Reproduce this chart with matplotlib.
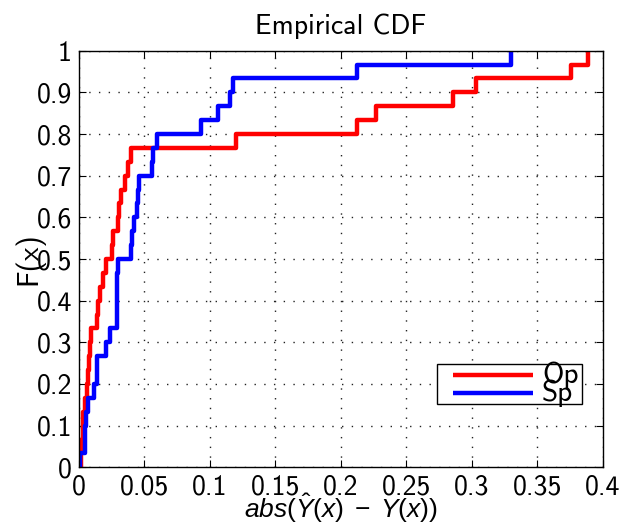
import matplotlib
matplotlib.use("Agg")
import matplotlib.pyplot as plt
from matplotlib.patches import Rectangle
import numpy as np

# errors, 30 samples per series
op = [0.0015, 0.002, 0.003, 0.0035, 0.0045, 0.0065, 0.007, 0.0075, 0.0085, 0.009,
      0.0135, 0.0145, 0.016, 0.0185, 0.021, 0.025, 0.026, 0.0295, 0.031, 0.032,
      0.035, 0.0372, 0.040, 0.1199, 0.2125, 0.2267, 0.2857, 0.303, 0.376, 0.389]
sp = [0.0008, 0.0046, 0.005, 0.0055, 0.0066, 0.0117, 0.0135, 0.014, 0.0204, 0.0237,
      0.0288, 0.0289, 0.029, 0.0292, 0.0295, 0.0397, 0.0402, 0.0422, 0.044, 0.0453,
      0.046, 0.056, 0.0565, 0.0593, 0.0929, 0.1064, 0.1153, 0.1178, 0.2125, 0.330]
labels = ["Op", "Sp"]
colors = ["red", "blue"]

xticks = np.arange(0, 0.401, 0.05)
yticks = np.arange(0, 1.01, 0.1)

plt.rcParams['font.family'] = ['cmss10', 'DejaVu Sans']
plt.rcParams['mathtext.fontset'] = 'custom'
plt.rcParams['mathtext.it'] = 'Liberation Sans:italic'
plt.rcParams['mathtext.rm'] = 'Liberation Sans'
plt.rcParams['axes.unicode_minus'] = False

fig = plt.figure(figsize=(6.26, 5.26), dpi=100)
ax = fig.add_axes([0.126, 0.1116, 0.837, 0.792])

for data, lab, c in zip([op, sp], labels, colors):
    xs = np.sort(data)
    ys = np.arange(1, len(xs) + 1) / len(xs)
    ax.step(np.r_[xs[0], xs], np.r_[0, ys], where='post', color=c, lw=3.2, label=lab)

ax.set_xlim(0, 0.4)
ax.set_ylim(0, 1)
ax.set_xticks(xticks)
ax.set_xticklabels(['0', '0.05', '0.1', '0.15', '0.2', '0.25', '0.3', '0.35', '0.4'])
ax.set_yticks(yticks)
ax.set_yticklabels(['0'] + ['%.1f' % v for v in yticks[1:-1]] + ['1'])
ax.tick_params(direction='in', top=True, right=True, length=5, labelsize=20, pad=5)
ax.grid(True, color='#222222', linestyle=(0, (1, 6)), linewidth=1)
for s in ax.spines.values():
    s.set_linewidth(1)

ax.set_title("Empirical CDF", fontsize=20, pad=12)
ax.set_xlabel(r"$abs(\hat{Y}(x)\;-\;Y(x))$", fontsize=19, labelpad=-6)
ax.set_ylabel("F(x)", fontsize=21, labelpad=-6)

# MATLAB-style legend box: text spills over the right edge like the original
ax.add_patch(Rectangle((0.683, 0.152), 0.277, 0.096, transform=ax.transAxes,
                       facecolor='white', edgecolor='k', lw=1, zorder=5))
for i, (lab, c) in enumerate(zip(labels, colors)):
    yy = 0.222 - i * 0.044
    ax.plot([0.714, 0.866], [yy, yy], transform=ax.transAxes, color=c, lw=3.2,
            solid_capstyle='butt', zorder=6)
    ax.text(0.884, yy, lab, transform=ax.transAxes, fontsize=21, va='center',
            ha='left', zorder=7)

fig.savefig("out.png", dpi=100)
